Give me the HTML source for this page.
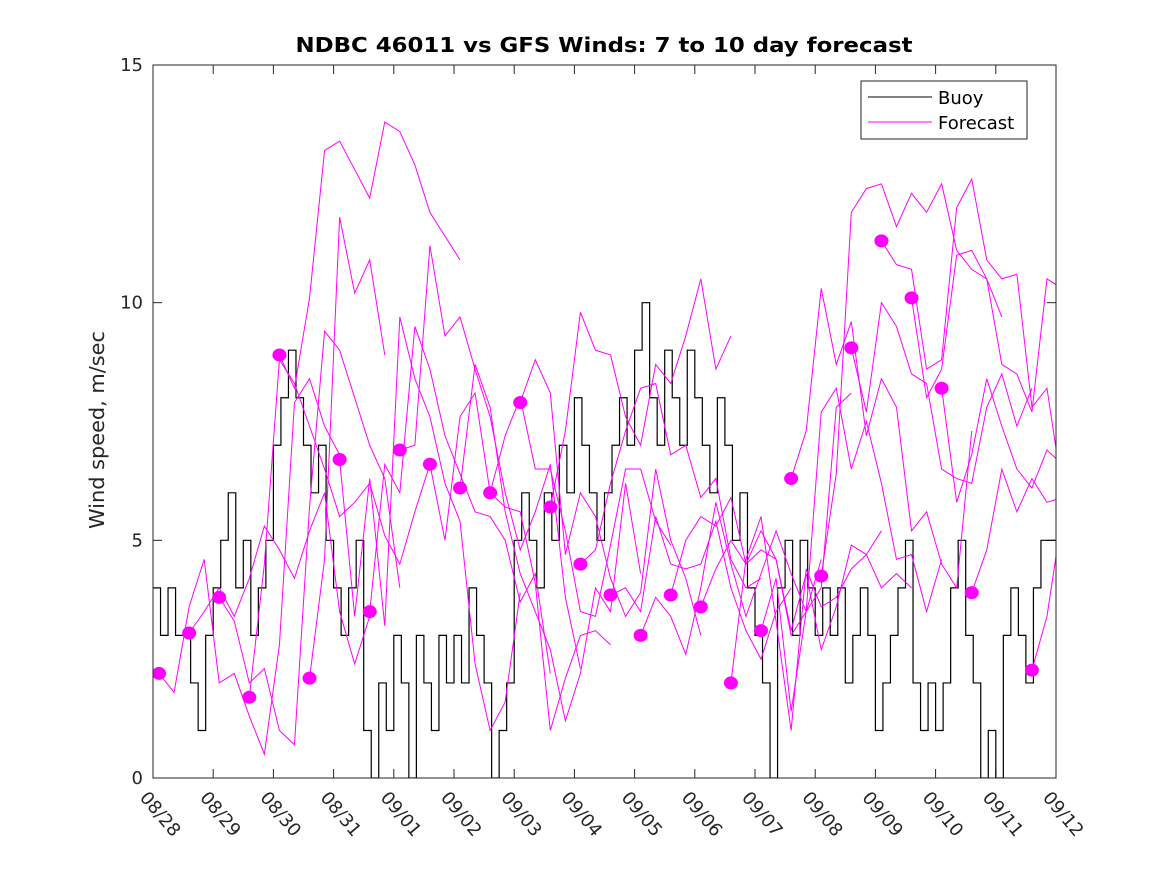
<!DOCTYPE html>
<html><head><meta charset="utf-8"><style>
body{margin:0;background:#fff;}
svg text{font-family:"DejaVu Sans","Liberation Sans",sans-serif;}
</style></head><body>
<svg id="chart" width="1167" height="875" xmlns="http://www.w3.org/2000/svg">
<defs><clipPath id="plotclip"><rect x="153" y="65" width="903" height="713"/></clipPath></defs>
<rect x="0" y="0" width="1167" height="875" fill="#fff"/>
<text x="604" y="52" text-anchor="middle" font-size="20" font-weight="bold" fill="#000" textLength="617" lengthAdjust="spacingAndGlyphs">NDBC 46011 vs GFS Winds: 7 to 10 day forecast</text>
<text transform="translate(104,430) rotate(-90)" text-anchor="middle" font-size="20" fill="#262626" textLength="198" lengthAdjust="spacingAndGlyphs">Wind speed, m/sec</text>
<g id="ticks"></g>
<g id="series" clip-path="url(#plotclip)"></g>
<rect x="153" y="65" width="903" height="713" fill="none" stroke="#262626" stroke-width="1"/>
<g>
<rect x="861" y="81" width="166" height="58" fill="#fff" stroke="#262626" stroke-width="1"/>
<line x1="868" y1="97" x2="932" y2="97" stroke="#000" stroke-width="1"/>
<text x="938" y="104" font-size="18" fill="#000">Buoy</text>
<line x1="868" y1="122" x2="932" y2="122" stroke="#ff00ff" stroke-width="1"/>
<text x="938" y="129" font-size="18" fill="#000">Forecast</text>
</g>
</svg>
<script>
const xTickLabels=["08/28","08/29","08/30","08/31","09/01","09/02","09/03","09/04","09/05","09/06","09/07","09/08","09/09","09/10","09/11","09/12"];
const yTicks=[0,5,10,15];
// buoy, 3-hourly from 08/28 00Z
const buoy=[4,3,4,3,3,2,1,3, 4,5,6,4,5,3,4,5, 7,8,9,8,7,6,7,5, 4,3,4,5,1,0,2,1, 3,2,0,3,2,1,3,2, 3,2,4,3,2,0,1,2, 5,6,5,4,6,5,7,6, 8,7,6,5,6,7,8,7, 9,10,8,7,9,8,7,9, 8,7,6,8,7,5,6,4, 3,2,0,4,5,3,5,4, 3,4,3,4,2,3,4,3, 1,2,3,4,5,2,1,2, 1,2,4,5,3,2,0,1, 0,3,4,3,2,4,5,5];
const forecastStart=[0.1,0.6,1.1,1.6,2.1,2.6,3.1,3.6,4.1,4.6,5.1,5.6,6.1,6.6,7.1,7.6,8.1,8.6,9.1,9.6,10.1,10.6,11.1,11.6,12.1,12.6,13.1,13.6,14.6];
const forecasts=[
[2.2,1.8,3.6,4.6,2.0,2.2,1.3,0.5,2.8,7.9,8.4,7.4,6.8],
[3.05,3.5,4.0,3.4,4.2,5.3,4.8,4.2,5.2,6.0,3.5,2.4,3.4],
[3.8,3.3,2.0,2.3,1.0,0.7,5.7,9.4,9.0,8.0,7.0,6.3,4.0],
[1.7,4.5,8.8,8.3,7.4,6.5,5.5,5.8,6.2,5.1,4.5,5.6,6.6],
[8.9,8.2,10.1,13.2,13.4,12.8,12.2,13.8,13.6,12.9,11.9,11.4,10.9],
[2.1,4.6,11.8,10.2,10.9,8.9],
[6.7,3.4,6.3,3.2,9.7,8.4,7.6,6.2,5.4,2.4,1.0,1.6,3.9],
[3.5,6.6,6.0,9.5,8.6,7.2,6.4,5.6,5.5,5.0,3.7,4.3,2.2],
[6.9,7.0,11.2,9.3,9.7,8.6,7.6,6.0,4.8,5.6,6.6,3.8,2.3],
[6.6,5.0,7.6,8.1,6.0,5.7,5.6,4.1,1.0,2.1,3.0,3.1,2.8],
[6.1,8.7,7.8,5.6,4.3,3.5,2.7,1.2,2.2,4.0,3.5,6.2,4.3],
[6.0,7.2,8.0,6.5,6.5,5.2,3.5,3.4,4.9,6.5,6.5,5.4,4.9],
[7.9,8.8,8.1,4.7,6.0,5.5,4.2,3.4,3.9,6.5,5.0,4.2,3.0],
[5.7,7.3,9.8,9.0,8.9,7.6,7.0,8.7,8.3,9.3,10.5,8.6,9.3],
[4.5,4.8,6.2,7.3,8.2,8.3,6.8,7.0,5.9,6.3,4.6,4.0,4.2],
[3.85,4.0,3.5,5.5,4.5,4.4,4.5,5.4,4.0,3.1,2.5,3.5,4.0],
[3.0,3.8,3.4,2.6,4.0,5.8,4.5,3.4,4.3,5.2,4.3,3.5,4.6],
[3.85,5.0,5.5,5.3,5.9,4.5,4.8,4.6,3.0,3.5,4.0,7.8,8.1],
[3.6,4.4,5.0,4.5,5.2,4.6,3.1,4.3,2.7,3.6,4.9,4.7,5.2],
[2.0,4.6,5.5,3.3,1.0,4.4,3.6,3.8,4.4,4.7,4.0,4.3,4.0],
[3.1,4.2,1.4,3.5,7.7,8.2,6.5,7.5,6.2,4.6,4.7,3.5,4.6],
[6.3,7.3,10.3,8.7,9.6,7.2,8.4,7.8,5.2,5.6,4.5,4.0,7.3],
[4.25,6.4,11.9,12.4,12.5,11.6,12.3,11.9,12.5,11.1,10.7,10.5,9.7],
[9.05,7.7,10.0,9.5,8.5,8.3,6.5,6.3,6.2,7.8,8.5,7.4,8.2],
[11.3,10.8,10.7,8.6,8.8,12.0,12.6,10.9,10.5,10.6,7.8,8.2,6.1],
[10.1,8.0,8.6,11.0,11.1,10.5,8.7,8.5,7.7,10.5,10.3,10.4,8.7],
[8.2,5.8,6.8,8.4,7.4,6.5,6.1,6.9,6.6,8.0,10.3,11.0,11.6],
[3.9,4.8,6.5,5.6,6.3,5.8,5.9,4.9,4.4,3.3,5.2,4.9,5.5],
[2.27,3.4,5.5,10.4]
];
const NS="http://www.w3.org/2000/svg";
const X0=153,X1=1056,Y0=778,Y1=65;
const xs=d=>X0+(X1-X0)*d/15;
const ys=v=>Y0-(Y0-Y1)*v/15;
const ticks=document.getElementById('ticks');
const series=document.getElementById('series');
function mk(tag,attrs,parent){const e=document.createElementNS(NS,tag);for(const k in attrs)e.setAttribute(k,attrs[k]);parent.appendChild(e);return e;}
xTickLabels.forEach((lab,i)=>{
  const x=xs(i);
  const t1=mk('line',{x1:x,y1:Y0,x2:x,y2:Y0-9,stroke:'#262626'},ticks);
  
  
  mk('line',{x1:x,y1:Y1,x2:x,y2:Y1+9,stroke:'#262626'},ticks);
  const t=mk('text',{x:x-14,y:Y0+20,'font-size':18,fill:'#262626',transform:`rotate(50 ${x-14} ${Y0+20})`},ticks);
  
  
  t.textContent=lab;
});
yTicks.forEach(v=>{
  const y=ys(v);
  mk('line',{x1:X0,y1:y,x2:X0+9,y2:y,stroke:'#262626'},ticks);
  mk('line',{x1:X1,y1:y,x2:X1-9,y2:y,stroke:'#262626'},ticks);
  const t=mk('text',{x:X0-10,y:y+6,'font-size':18,fill:'#262626','text-anchor':'end'},ticks);
  
  
  t.textContent=v;
});
let d='';
buoy.forEach((v,i)=>{const xa=xs(i/8),xb=xs((i+1)/8),y=ys(v);d+=(i===0?'M':'L')+xa+','+y+'L'+xb+','+y;});
const bp=mk('path',{d:d,fill:'none',stroke:'#000','stroke-width':1.2},series);


forecasts.forEach((arr,k)=>{
  const s=forecastStart[k];
  const pts=arr.map((v,i)=>xs(s+i*0.25)+','+ys(v)).join(' ');
  const pl=mk('polyline',{points:pts,fill:'none',stroke:'#ff00ff','stroke-width':1},series);
  
  
});
forecasts.forEach((arr,k)=>{
  const c=mk('ellipse',{cx:xs(forecastStart[k]),cy:ys(arr[0]),rx:7,ry:6.5,fill:'#ff00ff'},series);
  
  
});
</script>
</body></html>
